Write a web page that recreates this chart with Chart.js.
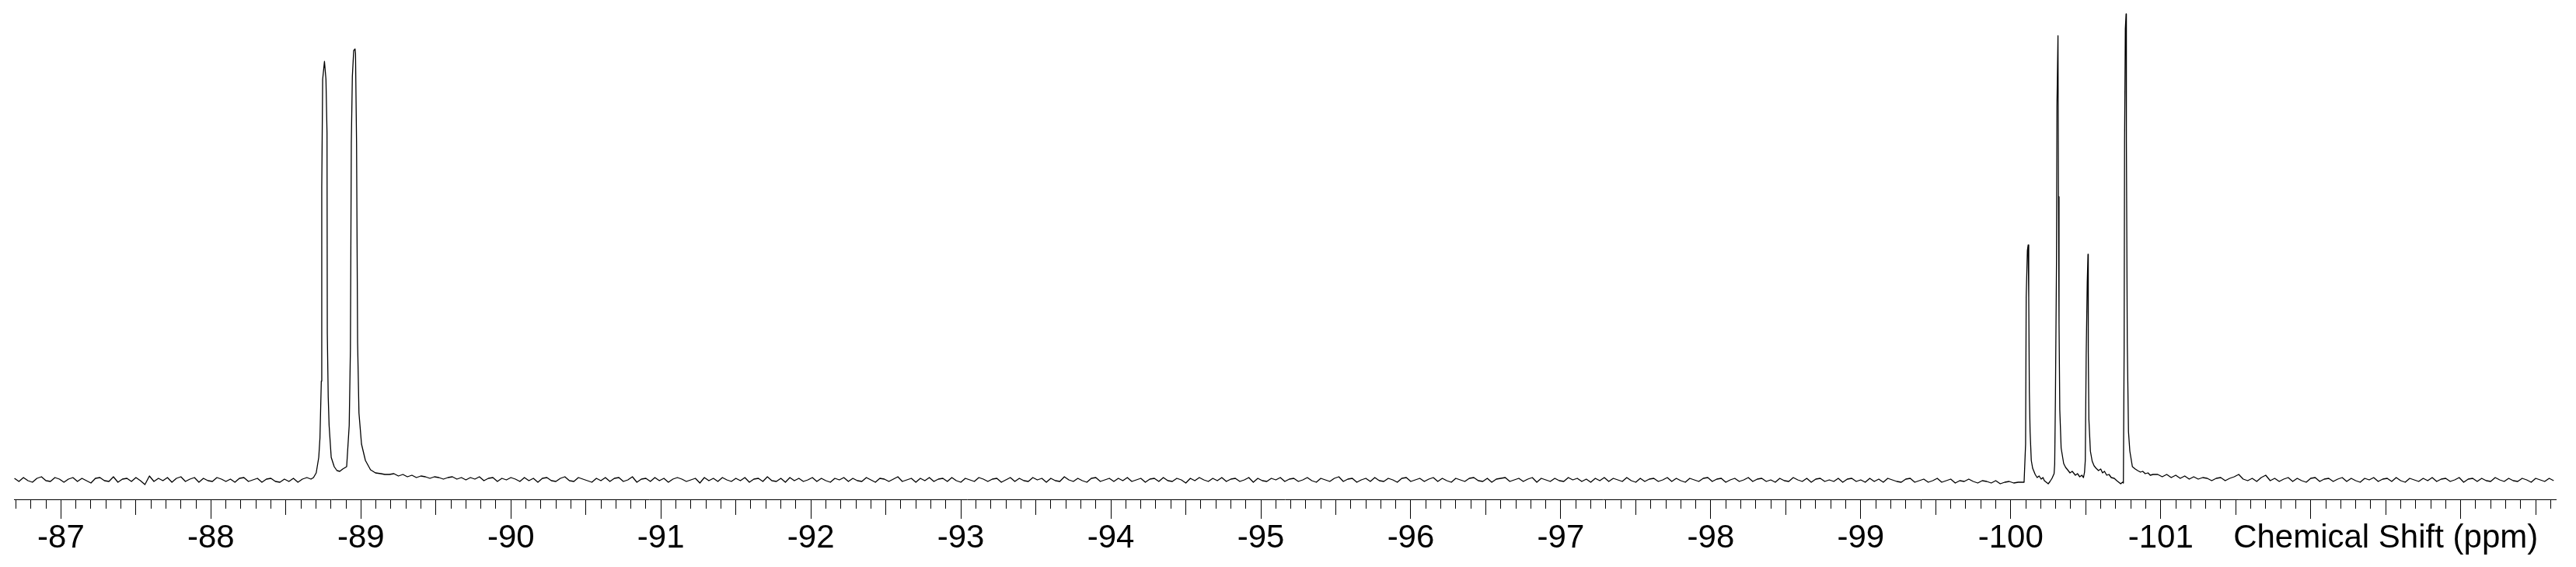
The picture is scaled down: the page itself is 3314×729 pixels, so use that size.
<!DOCTYPE html>
<html>
<head>
<meta charset="utf-8">
<title>Chemical Shift spectrum</title>
<script src="https://cdn.jsdelivr.net/npm/chart.js@4.4.1/dist/chart.umd.min.js"></script>
<style>
    html, body { margin: 0; padding: 0; background: #fff; }
    canvas { display: block; }
</style>
</head>
<body>
<canvas id="myChart" width="3314" height="729"></canvas>
<script>
// Axis range in ppm (left edge to right edge)
var ppmLeft = -86.687;
var ppmRight = -103.634;

// Labelled major ticks, and the axis title that sits on the same line
var tickLabels = [-87, -88, -89, -90, -91, -92, -93, -94, -95, -96, -97, -98, -99, -100, -101];
var axisTitle = "Chemical Shift (ppm)";
var axisTitleAt = -102.5;

// Baseline stretches, sampled every 0.03 ppm (intensity, arbitrary units)
var baseStep = 0.03;

var leftStart = -86.69;
var leftBase = [
    2, -2, 3, -1, -3, 2, 4, -1, -2, 3, 1, -3, 1, 3, -2, 2, -1, -4, 2, 3,
    -1, -2, 4, -3, 1, 2, -2, 3, -1, -6, 5, -2, 2, -1, 3, -3, 2, 4, -2, 1,
    3, -3, 2, -1, -2, 3, 1, -2, 1, -3, 2, 3, -2, 0, 2, -3, 1, 2, -2, -3,
    1, -2, 2, -3, 1, 3
];

var middleStart = -89.22;
var middleBase = [
    8, 5, 7, 4, 6, 3, 5, 4, 2, 4, 3, 1, 3, 4, 1, 3, 0, 3, 1, 4,
    -1, 2, 3, -2, 2, 0, 3, 1, -2, 3, -1, 2, -3, 2, 3, -1, -2, 2, 4, -1,
    -2, 3, 1, -1, -3, 2, -1, 3, -2, 2, 3, -2, 0, 4, -3, 1, 2, -2, 3, -1,
    2, -3, 1, 3, 1, -2, 0, 2, -4, 3, -1, 2, -2, 3, 0, -2, 2, -1, 3, -3,
    1, 2, -2, 4, -1, -2, 2, -3, 3, -1, 2, -2, 0, 3, -2, 2, -1, -3, 2, 0,
    3, -2, 2, -1, -2, 3, 0, -3, 2, 1, -2, 1, 4, -2, 0, 2, -3, 2, -1, 3,
    -2, 1, 2, -2, 3, -1, -3, 2, 0, -2, 3, 1, -2, 1, 2, -3, 0, 3, -2, 2,
    -1, -2, 3, 0, 2, -3, 2, -1, -2, 4, 0, -2, 2, -1, -3, 2, 3, -2, 0, 2,
    -2, 2, -1, 3, -2, 0, 2, -3, 1, 2, -2, 3, -1, -2, 2, 0, -4, 2, -1, 3,
    0, -2, 2, -1, 3, -2, 1, 2, -2, 0, 3, -3, 2, -1, -2, 2, 0, 3, -2, 1,
    2, -2, 0, 3, -1, -3, 2, 0, -2, 2, 4, -2, 1, 2, -3, 0, 2, -2, 3, -1,
    -2, 2, 0, -3, 2, 3, -2, 0, 2, -2, 1, 3, -2, 2, -1, -3, 2, 0, -2, 2,
    3, -1, -2, 2, -3, 1, 2, 3, -2, 0, 2, -2, 1, 3, -3, 2, 0, -2, 2, -1,
    -2, 3, 0, 2, -2, 1, -3, 2, -1, 3, -2, 2, 0, -2, 3, -1, -3, 2, -2, 1,
    2, -2, 0, 3, -2, 2, -1, -3, 2, 0, -2, 2, 3, -2, 1, 2, -3, 0, 2, -2,
    0, 3, -2, 1, 2, -2, 0, -3, 2, -1, -2, 3, 0, -2, 2, -3, 1, 2, -2, 0,
    -2, 2, -3, 1, 2, -2, 0, -3, 2, -2, 1, -3, 2, 0, -2, -3, 1, 2, -3, -1,
    1, -3, -1, 2, -3, -1, 1, -4, -1, -2, 1, -2, -4, -1, -2, -4, -1, -5, -3, -2,
    -4, -3
];

var rightStart = -100.98;
var rightBase = [
    7, 4, 7, 3, 6, 2, 5, 1, 4, 1, 3, 2, -1, 2, 3, -1, 2, 4, 7, 1,
    -1, 2, -2, 3, 6, -1, 2, -2, 1, 3, -2, 2, -1, -3, 2, 3, -2, 1, 2, -2,
    1, 3, -2, 2, -1, -3, 2, 0, 3, -2, 1, 2, -2, 3, -1, -3, 2, 0, -2, 2,
    -1, 3, -2, 1, 2, -2, 0, 3, -3, 1, 2, -2, 2, -1, -2, 3, 0, -2, 2, -1,
    -2, 2, 0, -3, 2, 0, -2, 2, -1
];

// Doublet near -88.8 / -89.0 ppm
var doubletPpm = [
    -88.667, -88.684, -88.702, -88.719, -88.727, -88.736, -88.739, -88.745, -88.757, -88.767,
    -88.774, -88.776, -88.782, -88.788, -88.802, -88.822, -88.840, -88.859, -88.879, -88.905,
    -88.922, -88.930, -88.936, -88.943, -88.952, -88.961, -88.964, -88.971, -88.978, -88.987,
    -89.004, -89.030, -89.064, -89.097, -89.133, -89.160, -89.190
];
var doubletInt = [
    1, 3, 9, 29, 54, 127, 376, 515, 538, 515,
    446, 188, 107, 70, 29, 17, 12, 11, 14, 17,
    70, 168, 433, 519, 552, 554, 548, 433, 176, 86,
    46, 25, 13, 9, 8, 7, 7
];

// Four sharp lines between -100.1 and -100.8 ppm
var multipletPpm = [
    -100.089, -100.099, -100.103, -100.111, -100.116, -100.120, -100.124, -100.129, -100.137, -100.146,
    -100.163, -100.176, -100.189, -100.203, -100.215, -100.224, -100.237, -100.250, -100.262, -100.275,
    -100.289, -100.293, -100.298, -100.305, -100.308, -100.315, -100.318, -100.322, -100.327, -100.336,
    -100.353, -100.366, -100.379, -100.395, -100.410, -100.431, -100.445, -100.460, -100.474, -100.485,
    -100.492, -100.497, -100.503, -100.510, -100.515, -100.517, -100.521, -100.531, -100.543, -100.556,
    -100.569, -100.585, -100.600, -100.612, -100.625, -100.640, -100.655, -100.670, -100.690, -100.707,
    -100.720, -100.733, -100.745, -100.751, -100.756, -100.759, -100.764, -100.769, -100.771, -100.777,
    -100.785, -100.794, -100.811, -100.830, -100.846, -100.865, -100.880, -100.897, -100.915, -100.930,
    -100.949
];
var multipletInt = [
    -3, 46, 235, 295, 302, 235, 113, 62, 25, 15,
    7, 3, 5, 1, 3, -1, -3, -5, -2, 2,
    8, 20, 107, 278, 480, 571, 364, 201, 90, 41,
    21, 16, 13, 9, 11, 6, 8, 4, 6, 3,
    10, 25, 160, 254, 290, 164, 78, 37, 24, 18,
    15, 12, 14, 9, 11, 6, 7, 3, 2, -1,
    -3, -5, -3, -4, 168, 437, 580, 599, 437, 176,
    62, 37, 17, 14, 12, 10, 11, 8, 9, 6,
    7
];

// Build the trace in order, left to right
function addBaseline(points, start, values) {
    values.forEach(function (v, i) {
        points.push({ x: +(start - i * baseStep).toFixed(3), y: v });
    });
}

function addPeaks(points, ppm, values) {
    ppm.forEach(function (p, i) {
        points.push({ x: p, y: values[i] });
    });
}

var spectrum = [];
addBaseline(spectrum, leftStart, leftBase);
addPeaks(spectrum, doubletPpm, doubletInt);
addBaseline(spectrum, middleStart, middleBase);
addPeaks(spectrum, multipletPpm, multipletInt);
addBaseline(spectrum, rightStart, rightBase);

var labelFont = { family: 'Arial, "Liberation Sans", sans-serif', size: 42, lineHeight: 1.2 };

var config = {
    type: "line",
    data: {
        datasets: [{
            data: spectrum,
            borderColor: "#000",
            borderWidth: 1.3,
            borderJoinStyle: "round",
            pointRadius: 0,
            tension: 0,
            fill: false
        }]
    },
    options: {
        responsive: false,
        animation: false,
        events: [],
        layout: { padding: { left: 18, right: 26, top: 0, bottom: 11.6 } },
        plugins: {
            legend: { display: false },
            tooltip: { enabled: false }
        },
        scales: {
            x: {
                type: "linear",
                reverse: true,
                min: ppmRight,
                max: ppmLeft,
                afterBuildTicks: function (scale) {
                    // a tick every 0.1 ppm
                    var ticks = [];
                    for (var t = Math.ceil(ppmRight * 10); t <= Math.floor(ppmLeft * 10); t++) {
                        ticks.push({ value: t / 10 });
                    }
                    scale.ticks = ticks;
                },
                border: { display: true, color: "#000", width: 1 },
                grid: {
                    drawOnChartArea: false,
                    drawTicks: true,
                    tickLength: 25,
                    tickColor: "#000",
                    tickWidth: 1,
                    // shorter marks for tenths and halves
                    tickBorderDash: function (ctx) {
                        var tenths = Math.round(ctx.tick.value * 10);
                        if (tenths % 10 === 0) return [];
                        if (tenths % 5 === 0) return [19, 100];
                        return [11, 100];
                    }
                },
                ticks: {
                    autoSkip: false,
                    maxRotation: 0,
                    minRotation: 0,
                    padding: 0,
                    color: "#000",
                    font: labelFont,
                    callback: function (value) {
                        var tenths = Math.round(value * 10);
                        if (tenths === Math.round(axisTitleAt * 10)) return axisTitle;
                        if (tenths % 10 === 0 && tickLabels.indexOf(tenths / 10) >= 0) return String(tenths / 10);
                        return "";
                    }
                }
            },
            y: {
                display: false,
                min: -25,
                max: 617
            }
        }
    }
};

var myChart = new Chart(document.getElementById("myChart"), config);
</script>
</body>
</html>
